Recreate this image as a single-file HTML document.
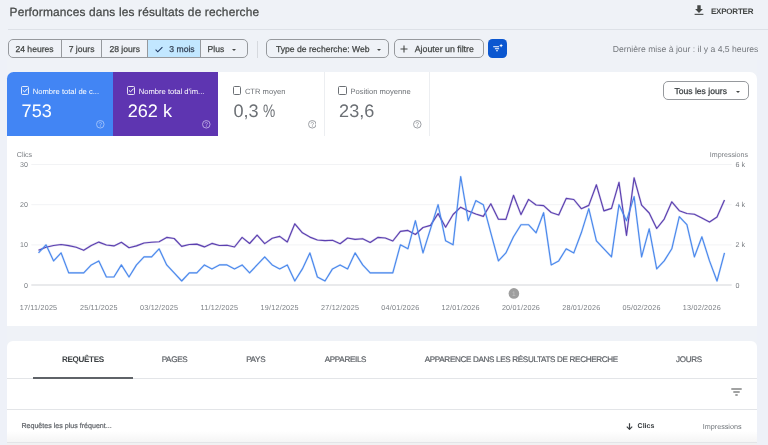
<!DOCTYPE html>
<html><head><meta charset="utf-8">
<style>
*{box-sizing:border-box;margin:0;padding:0}
html,body{width:768px;height:445px;overflow:hidden}
body{will-change:transform;text-rendering:geometricPrecision}
body{background:#eff2f7;font-family:"Liberation Sans",Arial,sans-serif;color:#444746;position:relative}
.abs{position:absolute}
.title{left:9.6px;top:4.6px;font-size:11.9px;line-height:14px;color:#444746;white-space:nowrap;letter-spacing:0.16px;-webkit-text-stroke:0.25px #444746}
.hline{left:8px;right:0;top:29px;height:1px;background:#dde1e7}
.exp{left:711px;top:7.7px;font-size:8px;font-weight:bold;color:#444746;line-height:8px;letter-spacing:-0.22px}
.seg{left:7.5px;top:39.4px;width:240px;height:18.4px;border:1px solid #96999d;border-radius:5px;overflow:hidden;display:flex}
.seg div{height:100%;border-right:1px solid #96999d;font-size:8.6px;line-height:18px;text-align:center;color:#444746;white-space:nowrap;-webkit-text-stroke:0.25px #444746}
.seg div:last-child{border-right:none}
.btn{border:1px solid #96999d;border-radius:5px;height:18.4px;top:39.4px;font-size:8.6px;line-height:18px;color:#444746;white-space:nowrap;-webkit-text-stroke:0.25px currentColor}
.tri{display:inline-block;width:0;height:0;border-left:2.2px solid transparent;border-right:2.2px solid transparent;border-top:2.2px solid #444746;vertical-align:middle}
.upd{right:9.6px;top:44.2px;font-size:8.65px;color:#75797e;white-space:nowrap;line-height:10px}
.card{left:7px;width:750px;background:#fff}
.tile{top:72px;height:63.7px}
.tile .lab{position:absolute;left:0;top:15.6px;font-size:7.6px;white-space:nowrap;line-height:8px}
.tile .num{position:absolute;top:29.2px;font-size:18.1px;line-height:20px;white-space:nowrap}
.cb{position:absolute;top:14.4px;width:8.5px;height:8.5px;border:1.1px solid rgba(255,255,255,0.85);border-radius:1.5px}
.help{position:absolute;top:48.3px}
svg text{font-family:"Liberation Sans",Arial,sans-serif}
.tab{position:absolute;top:354.9px;font-size:8.1px;line-height:9px;color:#5f6368;white-space:nowrap;text-align:center;letter-spacing:-0.33px;-webkit-text-stroke:0.2px #5f6368}
</style></head><body>
<div class="abs title">Performances dans les résultats de recherche</div>
<svg class="abs" style="left:694px;top:5px" width="10" height="10" viewBox="0 0 10 10"><path d="M3.3 0.3h3.4v3.6h2.2L5 8 1.1 3.9h2.2z" fill="#444746"/><rect x="0.6" y="8.8" width="8.8" height="1.1" fill="#444746"/></svg>
<div class="abs exp">EXPORTER</div>
<div class="abs hline"></div>

<div class="abs seg">
 <div style="width:53.1px">24 heures</div>
 <div style="width:40.9px">7 jours</div>
 <div style="width:45.4px">28 jours</div>
 <div style="width:53.2px;background:#c2e7ff;color:#1f3760"><svg width="8" height="7" viewBox="0 0 8 7" style="vertical-align:-0.5px;margin-right:6px;margin-left:2px"><path d="M0.6 3.6l2.2 2.2L7.4 1.1" stroke="#1f3760" stroke-width="1.1" fill="none"/></svg>3 mois</div>
 <div style="flex:1;text-align:left;padding-left:6.5px">Plus<span class="tri" style="margin-left:8px"></span></div>
</div>
<div class="abs" style="left:257px;top:40.7px;width:1px;height:17.3px;background:#d6d9de"></div>
<div class="abs btn" style="left:266.2px;width:122.5px;padding-left:8.8px">Type de recherche: Web<span class="tri" style="margin-left:7.5px"></span></div>
<div class="abs btn" style="left:393.7px;width:89.9px;padding-left:20px;font-size:8.8px">Ajouter un filtre</div>
<svg class="abs" style="left:400px;top:44.6px" width="8" height="8" viewBox="0 0 8 8"><path d="M4 0.5v7M0.5 4h7" stroke="#444746" stroke-width="1.1"/></svg>
<div class="abs" style="left:488.2px;top:39.4px;width:19px;height:18.3px;background:#0b57d0;border-radius:4.5px"></div>
<svg class="abs" style="left:491px;top:42px" width="14" height="13" viewBox="0 0 14 13"><path d="M2.2 4.7h5.9M3.9 6.7h4.2M5.1 8.7h1.8" stroke="#fff" stroke-width="1.1"/><path d="M10.1 1.7l0.6 1.3 1.3 0.6-1.3 0.6-0.6 1.3-0.6-1.3-1.3-0.6 1.3-0.6z" fill="#fff"/></svg>
<div class="abs upd">Dernière mise à jour : il y a 4,5 heures</div>

<div class="abs" style="left:0;top:60px;width:7px;height:385px;background:#eef1f8"></div>
<div class="abs" style="left:757px;top:60px;width:11px;height:385px;background:#eef1f8"></div>
<!-- chart card -->
<div class="abs card" style="top:72px;height:254px;border-radius:7px 7px 0 0"></div>
<div class="abs tile" style="left:7px;width:105.7px;background:#4285f4;border-top-left-radius:6.5px;color:#fff">
  <div class="cb" style="left:13.8px"><svg class="ck" width="8.5" height="8.5" viewBox="0 0 8.5 8.5" style="position:absolute;left:-1.1px;top:-1.1px"><path d="M1.9 4.3l1.6 1.6 3.1-3.3" stroke="#fff" stroke-width="1" fill="none"/></svg></div>
  <div class="lab" style="left:25.8px">Nombre total de c...</div>
  <div class="num" style="left:14.6px">753</div>
  <svg class="help" style="left:89px" width="8.6" height="8.6" viewBox="0 0 9 9"><circle cx="4.5" cy="4.5" r="3.95" fill="none" stroke="#a8c7fa" stroke-width="0.9"/><path d="M3.25 3.7a1.25 1.25 0 1 1 1.9 1.05c-0.45 0.28-0.65 0.55-0.65 1.05" fill="none" stroke="#a8c7fa" stroke-width="0.85"/><circle cx="4.5" cy="6.75" r="0.5" fill="#a8c7fa"/></svg>
</div>
<div class="abs tile" style="left:112.7px;width:105.8px;background:#5e35b1;color:#fff">
  <div class="cb" style="left:14.2px"><svg class="ck" width="8.5" height="8.5" viewBox="0 0 8.5 8.5" style="position:absolute;left:-1.1px;top:-1.1px"><path d="M1.9 4.3l1.6 1.6 3.1-3.3" stroke="#fff" stroke-width="1" fill="none"/></svg></div>
  <div class="lab" style="left:26.1px">Nombre total d'im...</div>
  <div class="num" style="left:15px">262 k</div>
  <svg class="help" style="left:89.3px" width="8.6" height="8.6" viewBox="0 0 9 9"><circle cx="4.5" cy="4.5" r="3.95" fill="none" stroke="#c5b4e8" stroke-width="0.9"/><path d="M3.25 3.7a1.25 1.25 0 1 1 1.9 1.05c-0.45 0.28-0.65 0.55-0.65 1.05" fill="none" stroke="#c5b4e8" stroke-width="0.85"/><circle cx="4.5" cy="6.75" r="0.5" fill="#c5b4e8"/></svg>
</div>
<div class="abs tile" style="left:218.5px;width:106.3px;border-right:1px solid #eceef1;color:#6c7075">
  <div class="cb" style="left:14.1px;border-color:#6c7075"></div>
  <div class="lab" style="left:26.4px">CTR moyen</div>
  <div class="num" style="left:14.9px">0,3<span style="display:inline-block;transform:scaleX(0.76);transform-origin:0 0;margin-left:4.6px">%</span></div>
  <svg class="help" style="left:89.2px" width="8.6" height="8.6" viewBox="0 0 9 9"><circle cx="4.5" cy="4.5" r="3.95" fill="none" stroke="#8e9297" stroke-width="0.9"/><path d="M3.25 3.7a1.25 1.25 0 1 1 1.9 1.05c-0.45 0.28-0.65 0.55-0.65 1.05" fill="none" stroke="#8e9297" stroke-width="0.85"/><circle cx="4.5" cy="6.75" r="0.5" fill="#8e9297"/></svg>
</div>
<div class="abs tile" style="left:324.8px;width:105px;border-right:1px solid #eceef1;color:#6c7075">
  <div class="cb" style="left:13.5px;border-color:#6c7075"></div>
  <div class="lab" style="left:25.6px">Position moyenne</div>
  <div class="num" style="left:14.3px">23,6</div>
  <svg class="help" style="left:88.6px" width="8.6" height="8.6" viewBox="0 0 9 9"><circle cx="4.5" cy="4.5" r="3.95" fill="none" stroke="#8e9297" stroke-width="0.9"/><path d="M3.25 3.7a1.25 1.25 0 1 1 1.9 1.05c-0.45 0.28-0.65 0.55-0.65 1.05" fill="none" stroke="#8e9297" stroke-width="0.85"/><circle cx="4.5" cy="6.75" r="0.5" fill="#8e9297"/></svg>
</div>
<div class="abs btn" style="left:663.4px;top:81.4px;width:85.3px;height:19px;line-height:19px;padding-left:10px;color:#3c4043">Tous les jours<span class="tri" style="margin-left:9px"></span></div>

<svg class="abs" style="left:0;top:0" width="768" height="445" viewBox="0 0 768 445">
 <g stroke="#f2f3f5" stroke-width="1">
  <line x1="31.3" y1="164.5" x2="731.7" y2="164.5"/>
  <line x1="31.3" y1="204.7" x2="731.7" y2="204.7"/>
  <line x1="31.3" y1="244.9" x2="731.7" y2="244.9"/>
 </g>
 <line x1="31.3" y1="285" x2="731.7" y2="285" stroke="#d3d5d9" stroke-width="1.2"/>
 <g font-size="7.1" fill="#787c81">
  <text x="16.8" y="156.8">Clics</text>
  <text x="748" y="156.8" text-anchor="end">Impressions</text>
  <g text-anchor="end"><text x="28" y="167">30</text><text x="28" y="207.2">20</text><text x="28" y="247.4">10</text><text x="28" y="287.5">0</text></g>
  <g><text x="735.5" y="167">6 k</text><text x="735.5" y="207.2">4 k</text><text x="735.5" y="247.4">2 k</text><text x="735.5" y="287.5">0</text></g>
 </g>
 <g font-size="7.2" fill="#7d8186" letter-spacing="0.22"><text x="38.5" y="309.8" text-anchor="middle">17/11/2025</text><text x="98.8" y="309.8" text-anchor="middle">25/11/2025</text><text x="159.1" y="309.8" text-anchor="middle">03/12/2025</text><text x="219.4" y="309.8" text-anchor="middle">11/12/2025</text><text x="279.7" y="309.8" text-anchor="middle">19/12/2025</text><text x="340.1" y="309.8" text-anchor="middle">27/12/2025</text><text x="400.4" y="309.8" text-anchor="middle">04/01/2026</text><text x="460.7" y="309.8" text-anchor="middle">12/01/2026</text><text x="521.0" y="309.8" text-anchor="middle">20/01/2026</text><text x="581.3" y="309.8" text-anchor="middle">28/01/2026</text><text x="641.6" y="309.8" text-anchor="middle">05/02/2026</text><text x="701.9" y="309.8" text-anchor="middle">13/02/2026</text></g>
 <g fill="none" stroke-linejoin="round"><polyline points="38.5,250.3 46.0,247.2 53.6,245.5 61.1,244.5 68.7,245.6 76.2,247.2 83.7,250.3 91.3,245.5 98.8,242.1 106.4,245.0 113.9,245.9 121.4,242.3 129.0,247.7 136.5,245.9 144.0,243.0 151.6,242.2 159.1,241.8 166.7,237.4 174.2,238.5 181.7,246.4 189.3,244.5 196.8,244.1 204.4,246.9 211.9,243.4 219.4,245.5 227.0,245.2 234.5,247.0 242.1,237.4 249.6,243.5 257.1,235.1 264.7,243.6 272.2,238.3 279.7,236.4 287.3,242.0 294.8,223.8 302.4,232.8 309.9,237.1 317.4,240.0 325.0,240.6 332.5,240.3 340.1,243.7 347.6,238.0 355.1,239.4 362.7,238.7 370.2,242.5 377.8,237.4 385.3,238.0 392.8,241.0 400.4,231.4 407.9,230.4 415.4,234.5 423.0,227.5 430.5,225.4 438.1,213.6 445.6,227.2 453.1,214.5 460.7,207.2 468.2,211.0 475.8,214.0 483.3,216.4 490.8,203.8 498.4,219.2 505.9,219.4 513.5,195.3 521.0,214.6 528.5,199.4 536.1,205.0 543.6,205.6 551.2,212.5 558.7,215.0 566.2,198.4 573.8,199.5 581.3,208.7 588.8,205.4 596.4,184.8 603.9,210.9 611.5,208.4 619.0,182.3 626.5,235.3 634.1,177.8 641.6,205.1 649.2,213.0 656.7,228.5 664.2,219.1 671.8,201.8 679.3,210.7 686.9,213.5 694.4,214.2 701.9,218.0 709.5,222.1 717.0,217.1 724.5,200.0" stroke="#5c40b0" stroke-width="2.2" stroke-opacity="0.2"/><polyline points="38.5,250.3 46.0,247.2 53.6,245.5 61.1,244.5 68.7,245.6 76.2,247.2 83.7,250.3 91.3,245.5 98.8,242.1 106.4,245.0 113.9,245.9 121.4,242.3 129.0,247.7 136.5,245.9 144.0,243.0 151.6,242.2 159.1,241.8 166.7,237.4 174.2,238.5 181.7,246.4 189.3,244.5 196.8,244.1 204.4,246.9 211.9,243.4 219.4,245.5 227.0,245.2 234.5,247.0 242.1,237.4 249.6,243.5 257.1,235.1 264.7,243.6 272.2,238.3 279.7,236.4 287.3,242.0 294.8,223.8 302.4,232.8 309.9,237.1 317.4,240.0 325.0,240.6 332.5,240.3 340.1,243.7 347.6,238.0 355.1,239.4 362.7,238.7 370.2,242.5 377.8,237.4 385.3,238.0 392.8,241.0 400.4,231.4 407.9,230.4 415.4,234.5 423.0,227.5 430.5,225.4 438.1,213.6 445.6,227.2 453.1,214.5 460.7,207.2 468.2,211.0 475.8,214.0 483.3,216.4 490.8,203.8 498.4,219.2 505.9,219.4 513.5,195.3 521.0,214.6 528.5,199.4 536.1,205.0 543.6,205.6 551.2,212.5 558.7,215.0 566.2,198.4 573.8,199.5 581.3,208.7 588.8,205.4 596.4,184.8 603.9,210.9 611.5,208.4 619.0,182.3 626.5,235.3 634.1,177.8 641.6,205.1 649.2,213.0 656.7,228.5 664.2,219.1 671.8,201.8 679.3,210.7 686.9,213.5 694.4,214.2 701.9,218.0 709.5,222.1 717.0,217.1 724.5,200.0" stroke="#5c40b0" stroke-width="1.15"/>
 <polyline points="38.5,252.9 46.0,244.8 53.6,260.9 61.1,252.9 68.7,272.9 76.2,272.9 83.7,272.9 91.3,264.9 98.8,260.9 106.4,277.0 113.9,277.0 121.4,264.9 129.0,277.0 136.5,264.9 144.0,256.9 151.6,256.9 159.1,248.8 166.7,264.9 174.2,272.9 181.7,281.0 189.3,272.9 196.8,272.9 204.4,264.9 211.9,268.9 219.4,264.9 227.0,264.9 234.5,268.9 242.1,264.9 249.6,272.9 257.1,264.9 264.7,256.9 272.2,264.9 279.7,268.9 287.3,264.9 294.8,281.0 302.4,268.9 309.9,252.9 317.4,277.0 325.0,281.0 332.5,268.9 340.1,264.9 347.6,268.9 355.1,252.9 362.7,264.9 370.2,272.9 377.8,272.9 385.3,272.9 392.8,272.9 400.4,244.8 407.9,248.8 415.4,220.7 423.0,252.9 430.5,228.8 438.1,204.7 445.6,240.8 453.1,244.8 460.7,176.5 468.2,220.7 475.8,200.6 483.3,204.7 490.8,232.8 498.4,260.9 505.9,252.9 513.5,236.8 521.0,224.7 528.5,224.7 536.1,232.8 543.6,212.7 551.2,264.9 558.7,260.9 566.2,248.8 573.8,252.9 581.3,232.8 588.8,208.7 596.4,240.8 603.9,248.8 611.5,256.9 619.0,204.7 626.5,220.7 634.1,196.6 641.6,256.9 649.2,228.8 656.7,268.9 664.2,260.9 671.8,248.8 679.3,216.7 686.9,224.7 694.4,256.9 701.9,236.8 709.5,260.9 717.0,281.0 724.5,252.9" stroke="#4a88ec" stroke-width="2.2" stroke-opacity="0.2"/><polyline points="38.5,252.9 46.0,244.8 53.6,260.9 61.1,252.9 68.7,272.9 76.2,272.9 83.7,272.9 91.3,264.9 98.8,260.9 106.4,277.0 113.9,277.0 121.4,264.9 129.0,277.0 136.5,264.9 144.0,256.9 151.6,256.9 159.1,248.8 166.7,264.9 174.2,272.9 181.7,281.0 189.3,272.9 196.8,272.9 204.4,264.9 211.9,268.9 219.4,264.9 227.0,264.9 234.5,268.9 242.1,264.9 249.6,272.9 257.1,264.9 264.7,256.9 272.2,264.9 279.7,268.9 287.3,264.9 294.8,281.0 302.4,268.9 309.9,252.9 317.4,277.0 325.0,281.0 332.5,268.9 340.1,264.9 347.6,268.9 355.1,252.9 362.7,264.9 370.2,272.9 377.8,272.9 385.3,272.9 392.8,272.9 400.4,244.8 407.9,248.8 415.4,220.7 423.0,252.9 430.5,228.8 438.1,204.7 445.6,240.8 453.1,244.8 460.7,176.5 468.2,220.7 475.8,200.6 483.3,204.7 490.8,232.8 498.4,260.9 505.9,252.9 513.5,236.8 521.0,224.7 528.5,224.7 536.1,232.8 543.6,212.7 551.2,264.9 558.7,260.9 566.2,248.8 573.8,252.9 581.3,232.8 588.8,208.7 596.4,240.8 603.9,248.8 611.5,256.9 619.0,204.7 626.5,220.7 634.1,196.6 641.6,256.9 649.2,228.8 656.7,268.9 664.2,260.9 671.8,248.8 679.3,216.7 686.9,224.7 694.4,256.9 701.9,236.8 709.5,260.9 717.0,281.0 724.5,252.9" stroke="#4a88ec" stroke-width="1.15"/></g>
 <circle cx="513.9" cy="293.4" r="5.3" fill="#9e9e9e"/>
 <text x="513.9" y="295.8" font-size="6.5" fill="#c4c4c4" text-anchor="middle">1</text>
</svg>

<!-- table card -->
<div class="abs card" style="top:341.4px;height:110px;border-radius:6px 6px 0 0"></div>
<div class="tab" style="left:33.2px;width:99.5px;font-weight:bold;color:#3c4043;-webkit-text-stroke:0">REQUÊTES</div>
<div class="tab" style="left:132.7px;width:83.6px">PAGES</div>
<div class="tab" style="left:216.3px;width:78.8px">PAYS</div>
<div class="tab" style="left:295.1px;width:100.7px">APPAREILS</div>
<div class="tab" style="left:395.8px;width:251px">APPARENCE DANS LES RÉSULTATS DE RECHERCHE</div>
<div class="tab" style="left:646.8px;width:84.1px">JOURS</div>
<div class="abs" style="left:7px;width:750px;top:378px;height:1px;background:#e3e5e8"></div>
<div class="abs" style="left:33.2px;width:99.5px;top:376.8px;height:1.8px;background:#5f6368"></div>
<svg class="abs" style="left:731px;top:388px" width="11" height="8" viewBox="0 0 11 8"><path d="M0.3 1h10.4M2.3 4h6.4M4.3 7h2.4" stroke="#444746" stroke-width="1.15"/></svg>
<div class="abs" style="left:7px;width:750px;top:409px;height:1px;background:#e3e5e8"></div>
<div class="abs" style="left:21.4px;top:422.2px;font-size:7.1px;color:#5f6368;white-space:nowrap;-webkit-text-stroke:0.2px #5f6368">Requêtes les plus fréquent...</div>
<svg class="abs" style="left:626px;top:422.6px" width="7" height="7" viewBox="0 0 7 7"><path d="M3.5 0.3v6M0.8 3.6l2.7 2.7 2.7-2.7" stroke="#3c4043" stroke-width="1.2" fill="none"/></svg>
<div class="abs" style="left:637.6px;top:422.8px;font-size:7px;font-weight:bold;color:#3c4043">Clics</div>
<div class="abs" style="left:702.8px;top:421.6px;font-size:7.2px;color:#70757a">Impressions</div>
<div class="abs" style="left:7px;width:750px;top:431px;height:10.5px;background:linear-gradient(#fff,#f5f5f5)"></div>
<div class="abs" style="left:7px;width:750px;top:441.5px;height:1px;background:#e3e5e8"></div>
<div class="abs" style="left:7px;width:750px;top:442.5px;height:3px;background:#f1f1f2"></div>
</body></html>
